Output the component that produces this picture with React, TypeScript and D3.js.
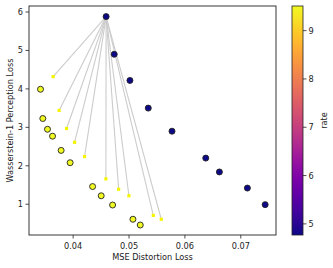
import * as React from 'react';
import * as d3 from 'd3';

// large circles (coloured by rate)
const pointMse = [0.0459, 0.04735, 0.05016, 0.05344, 0.05769, 0.06373, 0.06617, 0.07118, 0.07436,
    0.03416, 0.03457, 0.03541, 0.03631, 0.03785, 0.03946, 0.04348, 0.04502, 0.04706, 0.0507, 0.05201];
const pointW1 = [5.88, 4.9, 4.22, 3.5, 2.9, 2.2, 1.84, 1.42, 0.99,
    3.99, 3.23, 2.95, 2.77, 2.4, 2.08, 1.46, 1.22, 0.98, 0.61, 0.46];
const pointRate = [4.77, 4.77, 4.77, 4.77, 4.77, 4.77, 4.77, 4.77, 4.77,
    9.51, 9.51, 9.51, 9.51, 9.51, 9.51, 9.51, 9.51, 9.51, 9.51, 9.51];

// small squares linked to the top point
const squareMse = [0.03642, 0.03749, 0.03882, 0.04025, 0.04204, 0.04586, 0.04814, 0.04998, 0.05434, 0.05577];
const squareW1 = [4.32, 3.44, 2.97, 2.61, 2.24, 1.66, 1.39, 1.22, 0.71, 0.61];
const anchor = { mse: 0.0459, w1: 5.88 };

const xTicks = [0.04, 0.05, 0.06, 0.07];
const yTicks = [1, 2, 3, 4, 5, 6];
const rateTicks = [5, 6, 7, 8, 9];

const font = 'DejaVu Sans, sans-serif';
const fs = 8.2;

export default function App() {
    const left = 29, right = 276, top = 6, bottom = 235;
    const x = d3.scaleLinear().domain([0.0321, 0.0763]).range([left, right]);
    const y = d3.scaleLinear().domain([0.2, 6.156]).range([bottom, top]);
    const cbLeft = 292, cbRight = 303;
    const rateScale = d3.scaleLinear().domain([4.77, 9.51]).range([bottom, top]);
    const color = d3.scaleSequential(d3.interpolatePlasma).domain([4.77, 9.51]);
    const stops = d3.range(0, 1.0001, 0.05);

    return (
        <svg width={333} height={268} style={{ position: 'absolute', left: 0, top: 0 }} fontFamily={font}>
            <rect width={333} height={268} fill="white" />
            <defs>
                <linearGradient id="plasma" x1="0" y1="1" x2="0" y2="0">
                    {stops.map((t, i) => (
                        <stop key={i} offset={t} stopColor={d3.interpolatePlasma(t)} />
                    ))}
                </linearGradient>
            </defs>

            {squareMse.map((m, i) => (
                <line key={'l' + i} x1={x(anchor.mse)} y1={y(anchor.w1)} x2={x(m)} y2={y(squareW1[i])}
                    stroke="#cccccc" strokeWidth={1.1} />
            ))}
            {squareMse.map((m, i) => (
                <rect key={'s' + i} x={x(m) - 1.6} y={y(squareW1[i]) - 1.6} width={3.2} height={3.2} fill="#f5f500" />
            ))}
            {pointMse.map((m, i) => (
                <circle key={'c' + i} cx={x(m)} cy={y(pointW1[i])} r={3} fill={color(pointRate[i])}
                    stroke="#222" strokeWidth={0.9} />
            ))}

            <rect x={left} y={top} width={right - left} height={bottom - top} fill="none" stroke="#222" strokeWidth={0.9} />

            {xTicks.map(t => (
                <g key={'x' + t}>
                    <line x1={x(t)} x2={x(t)} y1={bottom} y2={bottom + 3.5} stroke="#222" strokeWidth={0.8} />
                    <text x={x(t)} y={bottom + 13.5} textAnchor="middle" fontSize={fs} fill="#222">{t.toFixed(2)}</text>
                </g>
            ))}
            {yTicks.map(t => (
                <g key={'y' + t}>
                    <line x1={left - 3.5} x2={left} y1={y(t)} y2={y(t)} stroke="#222" strokeWidth={0.8} />
                    <text x={left - 6} y={y(t) + 3} textAnchor="end" fontSize={fs} fill="#222">{t}</text>
                </g>
            ))}
            <text x={(left + right) / 2} y={259.5} textAnchor="middle" fontSize={fs} fill="#222">MSE Distortion Loss</text>
            <text transform={`translate(13,${(top + bottom) / 2}) rotate(-90)`} textAnchor="middle" fontSize={fs} fill="#222">
                Wasserstein-1 Perception Loss
            </text>

            <rect x={cbLeft} y={top} width={cbRight - cbLeft} height={bottom - top} fill="url(#plasma)" stroke="#222" strokeWidth={0.8} />
            {rateTicks.map(t => (
                <g key={'r' + t}>
                    <line x1={cbRight} x2={cbRight + 3.5} y1={rateScale(t)} y2={rateScale(t)} stroke="#222" strokeWidth={0.8} />
                    <text x={cbRight + 5.5} y={rateScale(t) + 3} fontSize={fs} fill="#222">{t}</text>
                </g>
            ))}
            <text transform={`translate(326.5,${(top + bottom) / 2}) rotate(-90)`} textAnchor="middle" fontSize={fs} fill="#222">rate</text>
        </svg>
    );
}
